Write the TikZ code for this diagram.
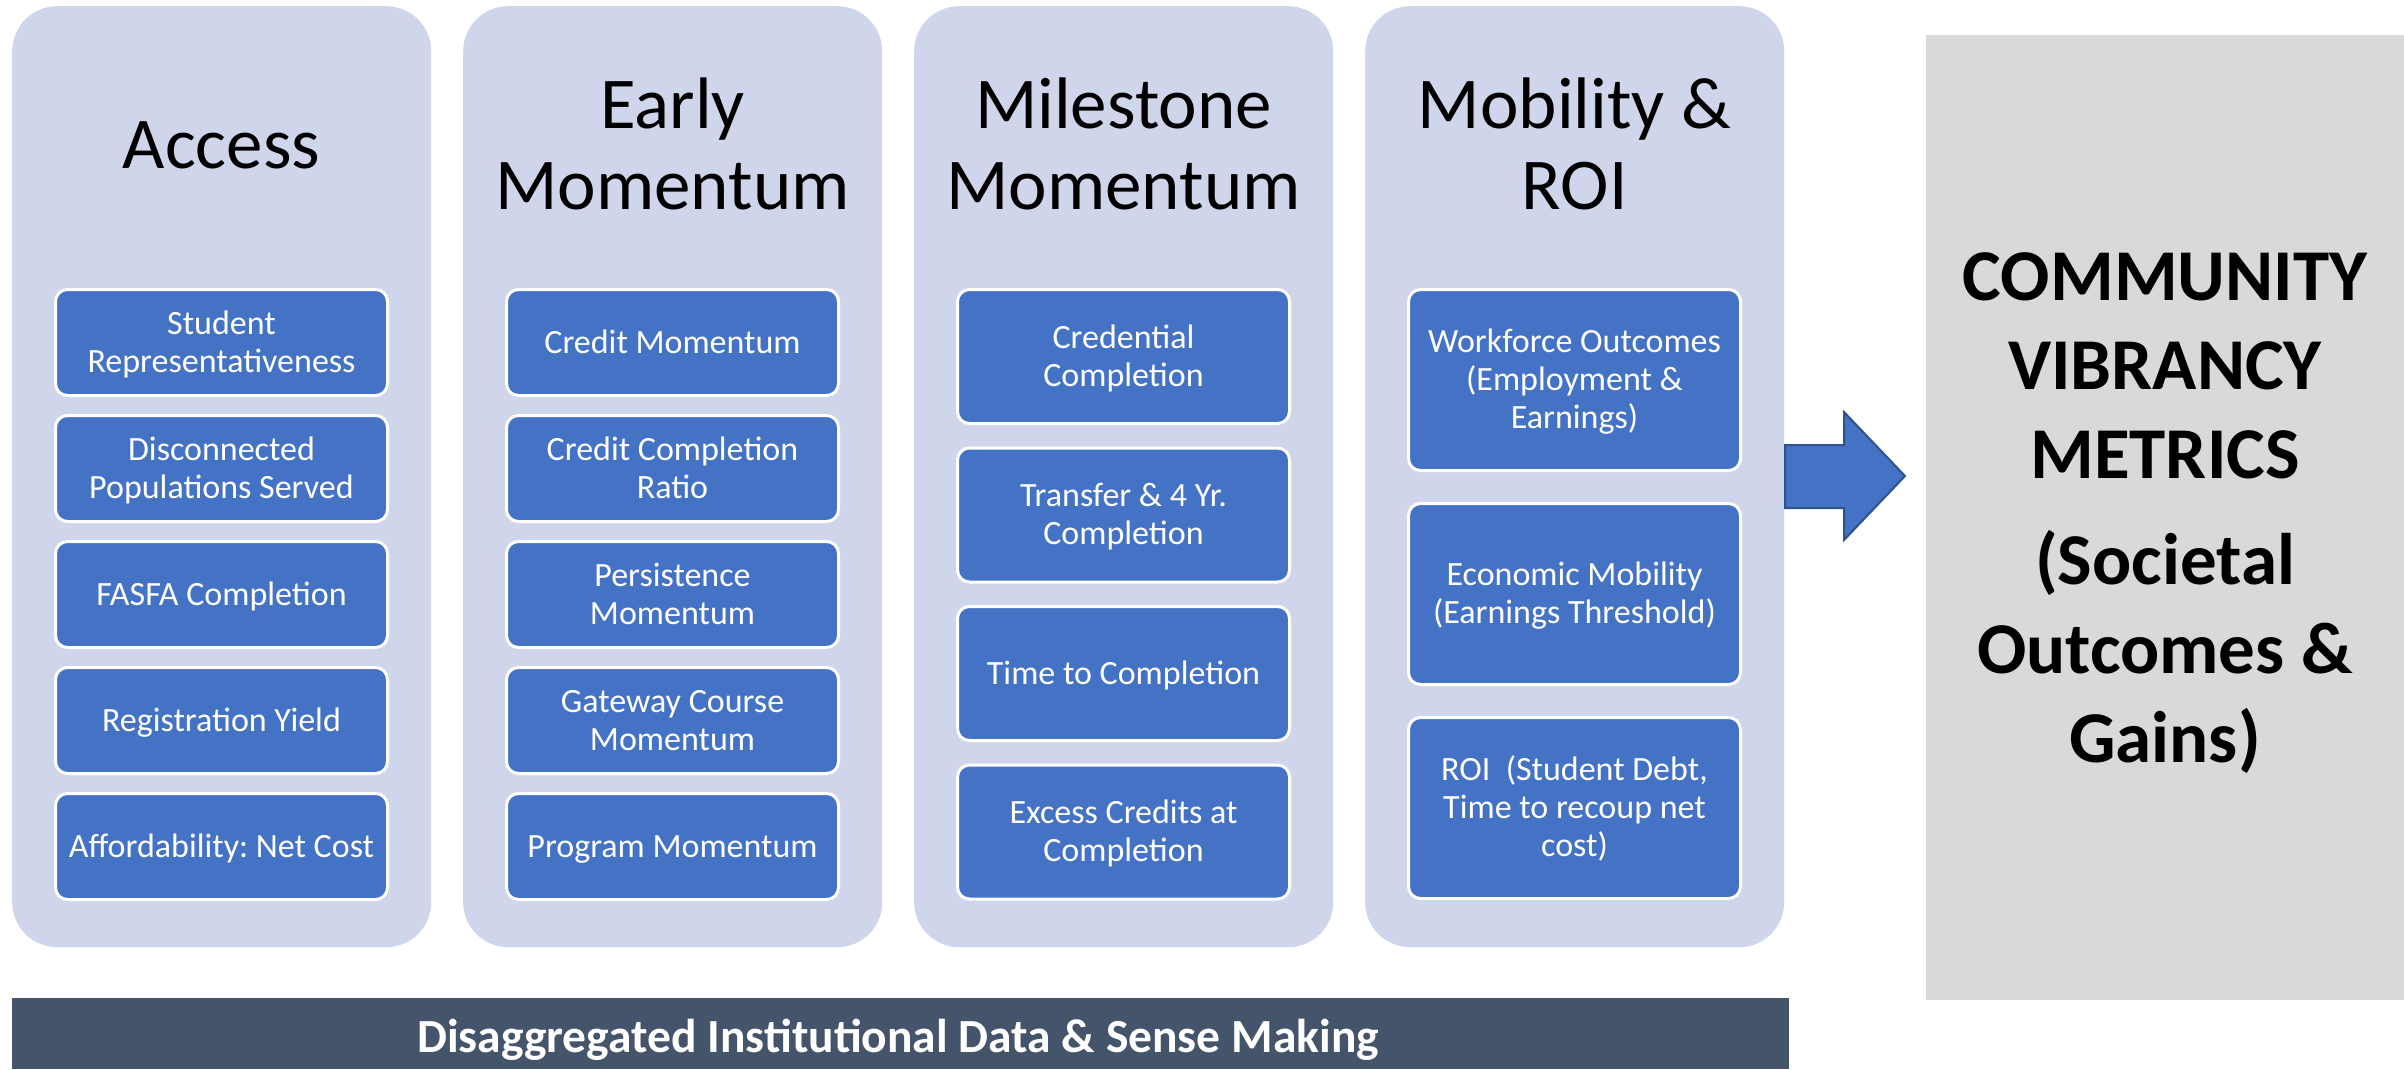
\documentclass[tikz,border=0pt]{standalone}
\usepackage{fontspec}
\setmainfont{Carlito}
\frenchspacing
\definecolor{colbg}{HTML}{CFD5EA}
\definecolor{boxblue}{HTML}{4472C4}
\definecolor{arrowedge}{HTML}{2F528F}
\definecolor{graybg}{HTML}{D9D9D9}
\definecolor{barbg}{HTML}{44546A}
\newcommand{\celltext}[1]{\begin{tabular}[t]{@{}c@{}}#1\end{tabular}}
\newcommand{\titletext}[1]{\begin{tabular}[b]{@{}c@{}}#1\end{tabular}}
\tikzset{
  colbox/.style={fill=colbg, draw=none, rounded corners=45pt, minimum width=419pt, minimum height=941pt, anchor=north west, inner sep=0pt},
  mbox/.style={fill=boxblue, draw=white, line width=3pt, rounded corners=12pt, minimum width=332pt, inner sep=0pt, text=white, font=\fontsize{34}{38}\selectfont, text height=32.4pt},
  coltitle/.style={anchor=base, inner sep=0pt, font=\fontsize{73}{81}\selectfont},
}
\begin{document}
\begin{tikzpicture}[x=1pt,y=-1pt]
\useasboundingbox (0,0) rectangle (2404,1069);
\fill[white] (0,0) rectangle (2404,1069);
% columns
\node[colbox] (c1) at (12,6) {};
\node[colbox] (c2) at (463,6) {};
\node[colbox] (c3) at (914,6) {};
\node[colbox] (c4) at (1365,6) {};
% titles
\node[coltitle] (t1) at (221.5,168) {Access};
\node[coltitle] (t2) at (672.5,209) {\titletext{Early\\Momentum}};
\node[coltitle] (t3) at (1123.5,209) {\titletext{Milestone\\Momentum}};
\node[coltitle] (t4) at (1574.5,209) {\titletext{Mobility \&\\ROI}};
% Access boxes
\node[mbox, minimum height=106pt] (a1) at (221.5,342.5) {\celltext{Student\\Representativeness}};
\node[mbox, minimum height=106pt] (a2) at (221.5,468.5) {\celltext{Disconnected\\Populations Served}};
\node[mbox, minimum height=106pt] (a3) at (221.5,594.5) {\celltext{FASFA Completion}};
\node[mbox, minimum height=106pt] (a4) at (221.5,720.5) {\celltext{Registration Yield}};
\node[mbox, minimum height=106pt] (a5) at (221.5,846.5) {\celltext{Affordability: Net Cost}};
% Early boxes
\node[mbox, minimum height=106pt] (e1) at (672.5,342.5) {\celltext{Credit Momentum}};
\node[mbox, minimum height=106pt] (e2) at (672.5,468.5) {\celltext{Credit Completion\\Ratio}};
\node[mbox, minimum height=106pt] (e3) at (672.5,594.5) {\celltext{Persistence\\Momentum}};
\node[mbox, minimum height=106pt] (e4) at (672.5,720.5) {\celltext{Gateway Course\\Momentum}};
\node[mbox, minimum height=106pt] (e5) at (672.5,846.5) {\celltext{Program Momentum}};
% Milestone boxes
\node[mbox, minimum height=134pt] (m1) at (1123.5,356.5) {\celltext{Credential\\Completion}};
\node[mbox, minimum height=134pt] (m2) at (1123.5,515) {\celltext{Transfer \& 4 Yr.\\Completion}};
\node[mbox, minimum height=134pt] (m3) at (1123.5,673.5) {\celltext{Time to Completion}};
\node[mbox, minimum height=134pt] (m4) at (1123.5,832) {\celltext{Excess Credits at\\Completion}};
% Mobility boxes
\node[mbox, minimum height=181pt] (r1) at (1574.5,380) {\celltext{Workforce Outcomes\\(Employment \&\\Earnings)}};
\node[mbox, minimum height=181pt] (r2) at (1574.5,594) {\celltext{Economic Mobility\\(Earnings Threshold)}};
\node[mbox, minimum height=181pt] (r3) at (1574.5,808) {\celltext{ROI\ \ (Student Debt,\\Time to recoup net\\cost)}};
% gray box
\node[fill=graybg, minimum width=478pt, minimum height=965pt, anchor=north west, inner sep=0pt] (g) at (1926,35) {};
\node[anchor=base, inner sep=0pt, font=\bfseries\fontsize{73}{89}\selectfont] (gt) at (2165,300)
  {\begin{tabular}[t]{@{}c@{}}COMMUNITY\\VIBRANCY\\METRICS\\[17pt](Societal\\Outcomes \&\\Gains)\end{tabular}};
% arrow
\draw[fill=boxblue, draw=arrowedge, line width=2pt, line join=miter]
  (1785,445) -- (1844,445) -- (1844,412) -- (1905,476) -- (1844,540) -- (1844,508) -- (1785,508) -- cycle;
% bottom bar
\node[fill=barbg, minimum width=1777pt, minimum height=71pt, anchor=north west, inner sep=0pt] (bar) at (12,998) {};
\node[anchor=base, inner sep=0pt, text=white, font=\bfseries\fontsize{47.5}{56}\selectfont] (bt) at (898,1052)
  {Disaggregated Institutional Data \& Sense Making};
\end{tikzpicture}
\end{document}
